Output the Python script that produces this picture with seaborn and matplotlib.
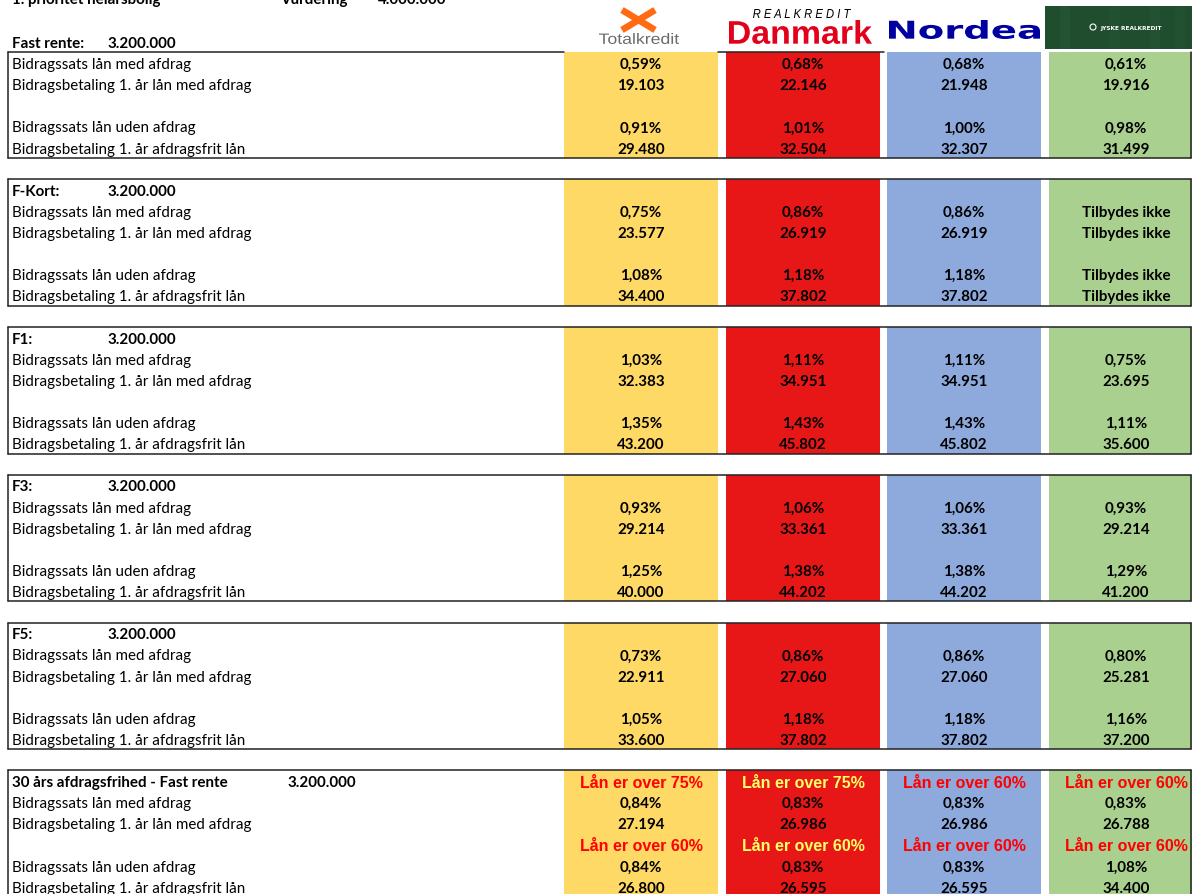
import numpy as np
import matplotlib
matplotlib.use("Agg")
import matplotlib.pyplot as plt
import seaborn as sns
from matplotlib.colors import ListedColormap
from matplotlib.textpath import TextPath
from matplotlib.patches import PathPatch, Rectangle
from matplotlib.font_manager import FontProperties
from matplotlib.transforms import Affine2D

# data
banks = ["Totalkredit", "Realkredit Danmark", "Nordea", "Jyske Realkredit"]
bank_colors = ["#FFD966", "#E81717", "#8EA9DB", "#A9D08E"]
sections = ["Fast rente:", "F-Kort:", "F1:", "F3:", "F5:", "30 års afdragsfrihed - Fast rente"]
loan = "3.200.000"
row_labels = ["Bidragssats lån med afdrag", "Bidragsbetaling 1. år lån med afdrag",
              "Bidragssats lån uden afdrag", "Bidragsbetaling 1. år afdragsfrit lån"]

# bidragssats (%) og bidragsbetaling (kr) pr. sektion, pr. bank (None = tilbydes ikke)
sats_med = [[0.59, 0.68, 0.68, 0.61], [0.75, 0.86, 0.86, None], [1.03, 1.11, 1.11, 0.75],
            [0.93, 1.06, 1.06, 0.93], [0.73, 0.86, 0.86, 0.80], [0.84, 0.83, 0.83, 0.83]]
betaling_med = [[19103, 22146, 21948, 19916], [23577, 26919, 26919, None], [32383, 34951, 34951, 23695],
                [29214, 33361, 33361, 29214], [22911, 27060, 27060, 25281], [27194, 26986, 26986, 26788]]
sats_uden = [[0.91, 1.01, 1.00, 0.98], [1.08, 1.18, 1.18, None], [1.35, 1.43, 1.43, 1.11],
             [1.25, 1.38, 1.38, 1.29], [1.05, 1.18, 1.18, 1.16], [0.84, 0.83, 0.83, 1.08]]
betaling_uden = [[29480, 32504, 32307, 31499], [34400, 37802, 37802, None], [43200, 45802, 45802, 35600],
                 [40000, 44202, 44202, 41200], [33600, 37802, 37802, 37200], [26800, 26595, 26595, 34400]]
advarsel_med = ["Lån er over 75%", "Lån er over 75%", "Lån er over 60%", "Lån er over 60%"]
advarsel_uden = ["Lån er over 60%", "Lån er over 60%", "Lån er over 60%", "Lån er over 60%"]
advarsel_farve = ["#FF0000", "#FFFF66", "#FF0000", "#FF0000"]


def fmt_pct(v):
    return "Tilbydes ikke" if v is None else f"{v:.2f}%".replace(".", ",")


def fmt_kr(v):
    return "Tilbydes ikke" if v is None else f"{v:,}".replace(",", ".")


# layout (pixels)
W, H = 1192, 895
ROW = 21.12
def ypx(r):
    return 0.5 + ROW * r

band_x = [564, 726, 887, 1049]
band_w = 154
col_cx = [x + band_w / 2 for x in band_x]
first_rows = [2 + 7 * k for k in range(len(sections))]
amount_x = [107, 107, 107, 107, 107, 287]

sns.set_theme(style="white")
plt.rcParams["font.family"] = ["Lato", "DejaVu Sans"]
fig = plt.figure(figsize=(W / 100, H / 100), dpi=100)

# farvede kolonner som heatmaps
n_rows = 40  # række 3..42
for b, col in enumerate(bank_colors):
    mat = np.full((n_rows, 1), np.nan)
    for k, h in enumerate(first_rows):
        r0 = h + 1 if k == 0 else h
        mat[r0 - 3:h + 6 - 3, 0] = 1
    top, bot = ypx(2.5), ypx(42.5)
    axb = fig.add_axes([band_x[b] / W, (H - bot) / H, band_w / W, (bot - top) / H])
    sns.heatmap(mat, ax=axb, cmap=ListedColormap([col]), vmin=0, vmax=2, cbar=False,
                xticklabels=False, yticklabels=False)
    axb.set_axis_off()

ax = fig.add_axes([0, 0, 1, 1])
ax.set_xlim(0, W)
ax.set_ylim(H, 0)
ax.set_axis_off()
ax.patch.set_alpha(0)

FS = 10.9
DY = 1.2
lbl = dict(fontsize=FS, va="center", ha="left", color="black")
val = dict(fontsize=FS, va="center", ha="center", color="black", fontweight="bold")

# topoverskrift (delvist skåret af i toppen, som i arket)
ax.text(12, ypx(0) - 1, "1. prioritet helårsbolig", fontweight="bold", **lbl)
ax.text(280, ypx(0) - 1, "Vurdering", fontweight="bold", **lbl)
ax.text(378, ypx(0) - 1, "4.000.000", fontweight="bold", **lbl)

lw = 1.1
for k, h in enumerate(first_rows):
    ax.text(12, ypx(h) + DY, sections[k], fontweight="bold", **lbl)
    ax.text(amount_x[k], ypx(h) + DY, loan, fontweight="bold", **lbl)
    top = ypx(h + 0.5) if k == 0 else ypx(h - 0.5)
    bot = ypx(h + 5.5)
    if k == 0:
        ax.plot([8, 564], [top, top], color="#222222", lw=lw)
        ax.plot([718, 884], [top, top], color="#222222", lw=lw)
    else:
        ax.plot([8, 1191], [top, top], color="#222222", lw=lw)
    ax.plot([8, 1191], [bot, bot], color="#222222", lw=lw)
    ax.plot([8, 8], [top, bot], color="#222222", lw=lw)
    ax.plot([1191, 1191], [top, bot], color="#222222", lw=lw)

    for j, r in enumerate([h + 1, h + 2, h + 4, h + 5]):
        ax.text(12, ypx(r) + DY, row_labels[j], **lbl)
    for b in range(4):
        ax.text(col_cx[b], ypx(h + 1) + DY, fmt_pct(sats_med[k][b]), **val)
        ax.text(col_cx[b], ypx(h + 2) + DY, fmt_kr(betaling_med[k][b]), **val)
        ax.text(col_cx[b], ypx(h + 4) + DY, fmt_pct(sats_uden[k][b]), **val)
        ax.text(col_cx[b], ypx(h + 5) + DY, fmt_kr(betaling_uden[k][b]), **val)
    if k == len(sections) - 1:
        for b in range(4):
            for r, txt in [(h, advarsel_med[b]), (h + 3, advarsel_uden[b])]:
                ax.text(col_cx[b], ypx(r) + DY, txt, family="Liberation Sans", fontweight="bold",
                        fontsize=11.5, ha="center", va="center", color=advarsel_farve[b])


def fit_text(s, x0, x1, y_top, y_bot, color, family="Liberation Sans", weight="bold", style="normal"):
    tp = TextPath((0, 0), s, size=1, prop=FontProperties(family=family, weight=weight, style=style))
    bb = tp.get_extents()
    tr = Affine2D().translate(-bb.x0, -bb.y0).scale((x1 - x0) / bb.width, -(y_bot - y_top) / bb.height)
    tr = tr.translate(x0, y_bot)
    ax.add_patch(PathPatch(tr.transform_path(tp), color=color, lw=0))


# logoer
ax.plot([622, 655], [11, 31], color="#FF6A13", lw=4.8, solid_capstyle="butt")
ax.plot([622, 655], [31, 11], color="#FF6A13", lw=4.8, solid_capstyle="butt")
fit_text("Totalkredit", 599, 679, 34, 45, "#6B6B6B", weight="normal")
fit_text("R E A L K R E D I T", 753, 851, 10, 19, "black", weight="normal", style="italic")
fit_text("Danmark", 729, 872, 21, 45, "#E2001A")
fit_text("Nordea", 889, 1040, 21, 40, "#0000A0", family="DejaVu Sans")
ax.add_patch(Rectangle((1045, 7), 147, 43, color="#1F4D2E", lw=0))
for sx, a in [(1060, 0.15), (1110, 0.1), (1150, 0.12), (1175, 0.1)]:
    ax.add_patch(Rectangle((sx, 7), 10, 43, color="#3C7A4E", alpha=a, lw=0))
ax.text(1131, 28, "JYSKE REALKREDIT", fontsize=4.2, color="white", family="DejaVu Sans",
        ha="center", va="center", fontweight="bold")
ax.add_patch(plt.Circle((1093, 28), 3, color="white", fill=False, lw=0.8))

fig.savefig("out.png", dpi=100)
